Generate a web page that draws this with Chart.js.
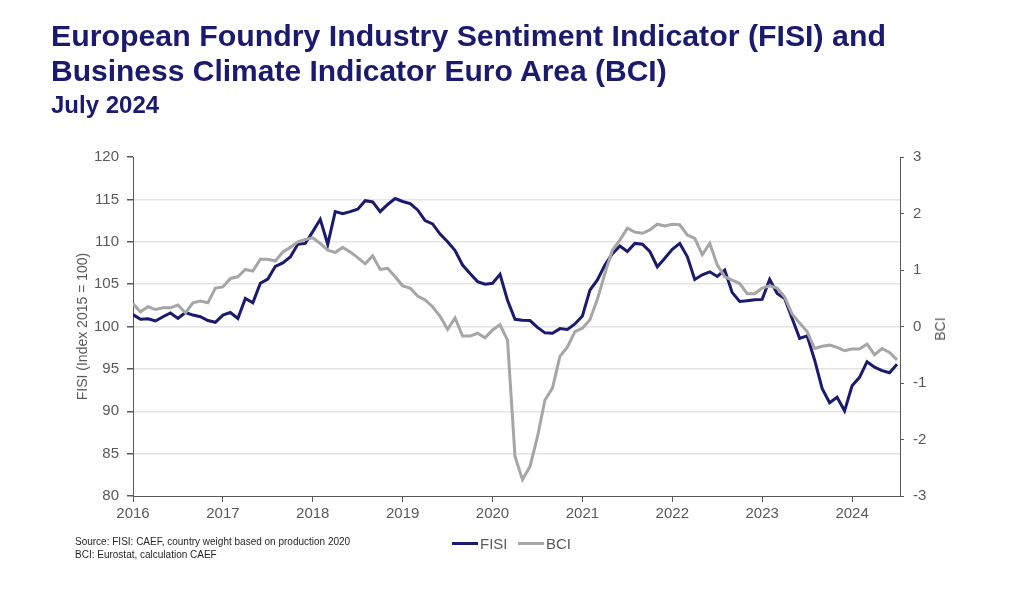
<!DOCTYPE html>
<html>
<head>
<meta charset="utf-8">
<title>FISI and BCI</title>
<script src="https://cdn.jsdelivr.net/npm/chart.js@4.4.1/dist/chart.umd.min.js"></script>
<style>
  body { margin: 0; background: #fff; font-family: "Liberation Sans", Arial, sans-serif; }
  #wrap { position: relative; width: 1024px; height: 595px; overflow: hidden; }
  #chart { position: absolute; left: 0; top: 0; }
  .t { position: absolute; white-space: nowrap; line-height: 1; color: #1a1a6e; font-weight: bold; }
  .src { position: absolute; left: 75px; white-space: nowrap; line-height: 1; font-size: 10px; color: #262626; }
  .leg { position: absolute; top: 536px; font-size: 15px; line-height: 1; color: #595959; white-space: nowrap; }
  .leg span { display: inline-block; width: 26px; height: 3px; vertical-align: middle; margin-right: 2px; margin-top: -3px; }
  #bciTitle { position: absolute; left: 940px; top: 329px; font-size: 14px; color: #595959; line-height: 1;
              transform: translate(-50%, -50%) rotate(-90deg); white-space: nowrap; }
</style>
</head>
<body>
<div id="wrap">
  <canvas id="chart" width="1024" height="595"></canvas>
  <div class="t" style="left:51px; top:21px; font-size:30.3px;">European Foundry Industry Sentiment Indicator (FISI) and</div>
  <div class="t" style="left:51px; top:56px; font-size:30px;">Business Climate Indicator Euro Area (BCI)</div>
  <div class="t" style="left:51px; top:93px; font-size:24px;">July 2024</div>
  <div class="src" style="top:537px;">Source: FISI: CAEF, country weight based on production 2020</div>
  <div class="src" style="top:550px;">BCI: Eurostat, calculation CAEF</div>
  <div class="leg" style="left:452px;"><span id="legFisi"></span>FISI</div>
  <div class="leg" style="left:518px;"><span id="legBci"></span>BCI</div>
  <div id="bciTitle">BCI</div>
</div>
<script>
// monthly values, Jan 2016 - Jul 2024
const fisi = [
  101.4, 100.85, 100.9, 100.65, 101.15, 101.6, 100.95, 101.65, 101.35, 101.15, 100.7, 100.5,
  101.35, 101.65, 100.95, 103.3, 102.8, 105.1, 105.6, 107.1, 107.5, 108.2, 109.7, 109.8,
  111.2, 112.65, 109.7, 113.55, 113.3, 113.55, 113.85, 114.85, 114.7, 113.55, 114.4, 115.1,
  114.75, 114.5, 113.75, 112.5, 112.1, 110.9, 110.0, 108.95, 107.25, 106.25, 105.3, 105.0,
  105.1, 106.15, 103.1, 100.85, 100.75, 100.7, 99.9, 99.25, 99.2, 99.75, 99.65, 100.3,
  101.25, 104.3, 105.5, 107.25, 108.6, 109.5, 108.85, 109.8, 109.7, 108.85, 107.05, 108.05,
  109.1, 109.8, 108.25, 105.55, 106.1, 106.45, 105.9, 106.65, 104.0, 102.95, 103.05, 103.15,
  103.2, 105.55, 103.9, 103.3, 100.95, 98.6, 98.9, 96.05, 92.7, 91.0, 91.65, 90.05,
  93.0, 94.0, 95.85, 95.2, 94.8, 94.55, 95.55
];
const bci = [
  0.40, 0.26, 0.35, 0.30, 0.33, 0.33, 0.38, 0.24, 0.42, 0.45, 0.42, 0.68,
  0.70, 0.85, 0.88, 1.01, 0.98, 1.19, 1.19, 1.16, 1.32, 1.40, 1.50, 1.54,
  1.57, 1.47, 1.35, 1.31, 1.40, 1.32, 1.22, 1.11, 1.25, 1.01, 1.03, 0.88,
  0.72, 0.68, 0.54, 0.47, 0.35, 0.18, -0.05, 0.15, -0.17, -0.17, -0.12, -0.20,
  -0.06, 0.03, -0.24, -2.30, -2.71, -2.48, -1.95, -1.30, -1.09, -0.53, -0.36, -0.09,
  -0.03, 0.12, 0.48, 0.94, 1.35, 1.53, 1.74, 1.67, 1.65, 1.71, 1.81, 1.78,
  1.81, 1.80, 1.62, 1.56, 1.27, 1.47, 1.09, 0.88, 0.82, 0.76, 0.58, 0.58,
  0.68, 0.72, 0.68, 0.52, 0.22, 0.06, -0.09, -0.39, -0.35, -0.33, -0.37, -0.43,
  -0.40, -0.40, -0.31, -0.50, -0.39, -0.46, -0.59
];
const yearLabels = ["2016", "2017", "2018", "2019", "2020", "2021", "2022", "2023", "2024"];

const navy = "#1a1a6e";
const grey = "#a6a6a6";
const axisColor = "#595959";
const gridColor = "#e4e4e4";
const tickFont = { family: "'Liberation Sans', Arial, sans-serif", size: 15 };

document.getElementById("legFisi").style.background = navy;
document.getElementById("legBci").style.background = grey;

new Chart(document.getElementById("chart"), {
  type: "line",
  data: {
    datasets: [
      {
        label: "FISI",
        data: fisi.map((v, i) => ({ x: i, y: v })),
        borderColor: navy,
        borderWidth: 3,
        pointRadius: 0,
        tension: 0,
        yAxisID: "y",
        order: 2,
      },
      {
        label: "BCI",
        data: bci.map((v, i) => ({ x: i, y: v })),
        borderColor: grey,
        borderWidth: 3,
        pointRadius: 0,
        tension: 0,
        yAxisID: "y2",
        order: 1,
      },
    ],
  },
  options: {
    responsive: false,
    animation: false,
    layout: { padding: { left: 70, right: 72, top: 157, bottom: 69 } },
    plugins: { legend: { display: false }, tooltip: { enabled: false } },
    scales: {
      x: {
        type: "linear",
        min: 0,
        max: 102.4,
        afterBuildTicks: (s) => {
          s.ticks = yearLabels.map((l, i) => ({ value: i * 12 }));
        },
        ticks: {
          callback: (v) => yearLabels[v / 12],
          autoSkip: false,
          maxRotation: 0,
          padding: 3,
          color: axisColor,
          font: tickFont,
        },
        grid: { drawOnChartArea: false, tickLength: 6, tickColor: axisColor },
        border: { color: axisColor },
        afterFit: (s) => { s.height = 30; },
      },
      y: {
        position: "left",
        min: 80,
        max: 120,
        ticks: { stepSize: 5, padding: 8, color: axisColor, font: tickFont },
        grid: {
          color: (c) => (c.tick.value === 80 || c.tick.value === 120 ? "rgba(0,0,0,0)" : gridColor),
          lineWidth: 1.5,
          tickLength: 6,
          tickColor: axisColor,
        },
        border: { color: axisColor },
        title: {
          display: true,
          text: "FISI (Index 2015 = 100)",
          color: axisColor,
          font: { family: "'Liberation Sans', Arial, sans-serif", size: 14 },
          padding: { top: 5, bottom: 4 },
        },
        afterFit: (s) => { s.width = 63; },
      },
      y2: {
        position: "right",
        min: -3,
        max: 3,
        ticks: { stepSize: 1, padding: 9, color: axisColor, font: tickFont },
        grid: { drawOnChartArea: false, tickLength: 4, tickColor: axisColor },
        border: { color: axisColor },
        afterFit: (s) => { s.width = 52; },
      },
    },
  },
});
</script>
</body>
</html>
